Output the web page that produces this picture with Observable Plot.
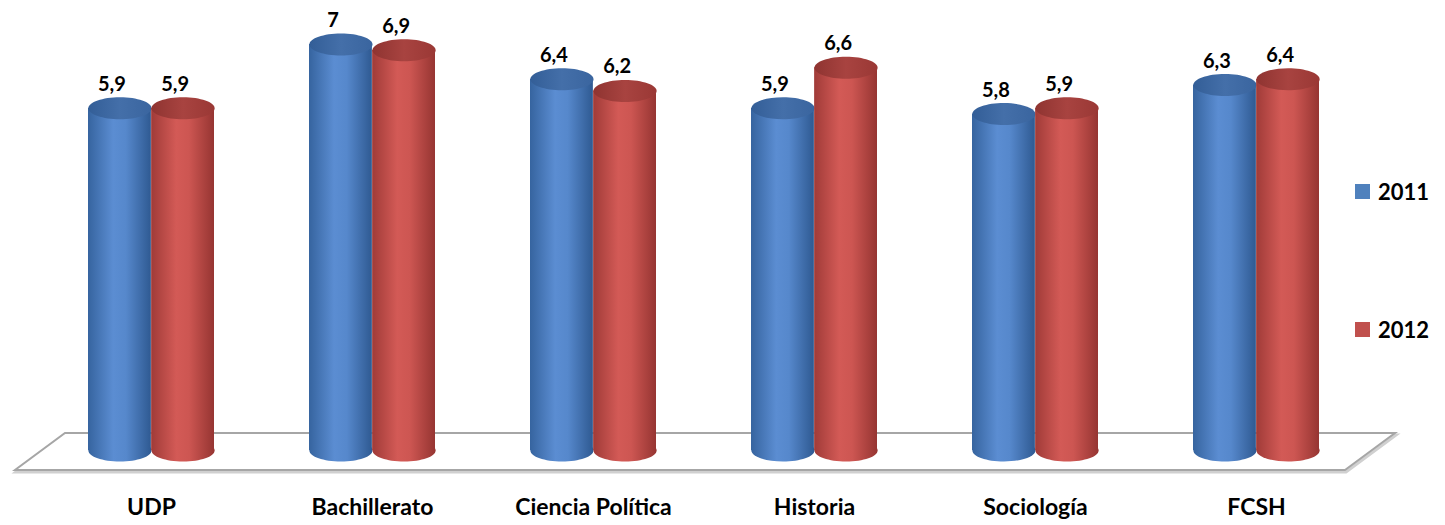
<!DOCTYPE html>
<html>
<head>
<meta charset="utf-8">
<script src="https://cdn.jsdelivr.net/npm/d3@7"></script>
<script src="https://cdn.jsdelivr.net/npm/@observablehq/plot@0.6"></script>
<style>
  html, body { margin: 0; padding: 0; background: #fff; }
  #wrap { position: relative; width: 1445px; height: 525px; font-family: Lato, "Open Sans", sans-serif; }
  #legend { position: absolute; left: 1355px; top: 0; font-weight: 700; font-size: 22px; color: #000; }
  .li { position: absolute; left: 0; display: flex; align-items: center; white-space: nowrap; }
  .sw { width: 15px; height: 15px; margin-right: 8px; }
</style>
</head>
<body>
<div id="wrap"><div id="legend"></div></div>
<script>
const categories = ["UDP", "Bachillerato", "Ciencia Política", "Historia", "Sociología", "FCSH"];
const series = ["2011", "2012"];
const values2011 = [5.9, 7.0, 6.4, 5.9, 5.8, 6.3];
const values2012 = [5.9, 6.9, 6.2, 6.6, 5.9, 6.4];
const seriesColors = ["#4f81bd", "#c0504d"];

const rows = categories.flatMap((c, i) => [
  {cat: c, year: series[0], value: values2011[i]},
  {cat: c, year: series[1], value: values2012[i]}
]);
const r11 = rows.filter(d => d.year === series[0]);
const r12 = rows.filter(d => d.year === series[1]);

const W = 1445, H = 525;
const xRange = [39, 1368];
const padding = 0.43;
const step = (xRange[1] - xRange[0]) / categories.length;
const B = step * (1 - padding);       // band width (two bars)
const half = B / 2;
const rx = half / 2, ry = 11;

const ellipse = {
  draw(c) {
    const a = rx, b = ry, k = 0.5523;
    c.moveTo(a, 0);
    c.bezierCurveTo(a, k * b, k * a, b, 0, b);
    c.bezierCurveTo(-k * a, b, -a, k * b, -a, 0);
    c.bezierCurveTo(-a, -k * b, -k * a, -b, 0, -b);
    c.bezierCurveTo(k * a, -b, a, -k * b, a, 0);
    c.closePath();
  }
};
const fmt = v => String(v).replace(".", ",");
const font = {fontFamily: "Lato, 'Open Sans', sans-serif", fontWeight: "bold", fontSize: 20, fill: "#000"};

const chart = Plot.plot({
  width: W, height: H,
  marginTop: 0, marginBottom: 30, marginLeft: 0, marginRight: 0,
  style: {background: "transparent", fontFamily: "Lato, sans-serif", overflow: "visible"},
  x: {domain: categories, range: xRange, paddingInner: padding, paddingOuter: padding / 2, label: null},
  y: {domain: [0, 7], range: [450, 44], axis: null},
  marks: [
    Plot.dot(r11, {x: "cat", y: 0, dx: -rx, symbol: ellipse, fill: "url(#gBlue)", stroke: "none"}),
    Plot.barY(r11, {x: "cat", y1: 0, y2: "value", insetRight: half, fill: "url(#gBlue)"}),
    Plot.dot(r11, {x: "cat", y: "value", dx: -rx, symbol: ellipse, fill: "url(#gBlueTop)", stroke: "none"}),
    Plot.dot(r12, {x: "cat", y: 0, dx: rx, symbol: ellipse, fill: "url(#gRed)", stroke: "none"}),
    Plot.barY(r12, {x: "cat", y1: 0, y2: "value", insetLeft: half, fill: "url(#gRed)"}),
    Plot.dot(r12, {x: "cat", y: "value", dx: rx, symbol: ellipse, fill: "url(#gRedTop)", stroke: "none"}),
    Plot.text(r11, {x: "cat", y: "value", text: d => fmt(d.value), ...font, dx: -rx - 8, dy: -24}),
    Plot.text(r12, {x: "cat", y: "value", text: d => fmt(d.value), ...font, dx: rx - 8, dy: -24}),
    Plot.axisX({tickSize: 0, tickPadding: 3, fontSize: 23, fontWeight: "bold", label: null})
  ]
});

const svg = d3.select(chart);
svg.selectAll("g[aria-label='x-axis tick label'] text, g[aria-label='x-axis'] text").attr("font-weight", "bold").attr("fill", "#000");

// gradients
const defs = svg.insert("defs", ":first-child");
function grad(id, stops) {
  const g = defs.append("linearGradient").attr("id", id).attr("x1", "0").attr("x2", "1").attr("y1", "0").attr("y2", "0");
  stops.forEach(([o, c]) => g.append("stop").attr("offset", o).attr("stop-color", c));
}
grad("gBlue", [["0", "#36649f"], ["0.4", "#5b8dd2"], ["0.6", "#5688cc"], ["1", "#2f5a92"]]);
grad("gRed", [["0", "#a03b38"], ["0.4", "#d35a56"], ["0.6", "#cd5652"], ["1", "#963532"]]);
grad("gBlueTop", [["0", "#335e97"], ["0.5", "#446fa9"], ["1", "#3a659f"]]);
grad("gRedTop", [["0", "#8f3431"], ["0.5", "#a84340"], ["1", "#9a3835"]]);

// floor plane derived from the scales
const xs = chart.scale("x"), ys = chart.scale("y");
const y0 = ys.apply(0);
const backY = y0 - 17, frontY = y0 + 20;
const skew = 50;
const floorPts = [
  [xs.range[0] - 24 + skew, backY], [xs.range[1] + 27, backY],
  [xs.range[1] + 27 - skew, frontY], [xs.range[0] - 24, frontY]
];
const floor = svg.insert("g", "g[aria-label='dot']");
floor.append("polygon").attr("points", floorPts.map(p => [p[0] + 1, p[1] + 2].join(",")).join(" "))
  .attr("fill", "none").attr("stroke", "#d0d0d0").attr("stroke-width", 3);
floor.append("polygon").attr("points", floorPts.map(p => p.join(",")).join(" "))
  .attr("fill", "#fff").attr("stroke", "#a6a6a6").attr("stroke-width", 2);

document.getElementById("wrap").insertBefore(chart, document.getElementById("legend"));
chart.style.position = "absolute"; chart.style.left = "0"; chart.style.top = "0";

const legend = document.getElementById("legend");
series.forEach((s, i) => {
  const el = document.createElement("div");
  el.className = "li";
  el.style.top = (i === 0 ? 178 : 316) + "px";
  el.innerHTML = `<span class="sw" style="background:${seriesColors[i]}"></span><span>${s}</span>`;
  legend.appendChild(el);
});
</script>
</body>
</html>
